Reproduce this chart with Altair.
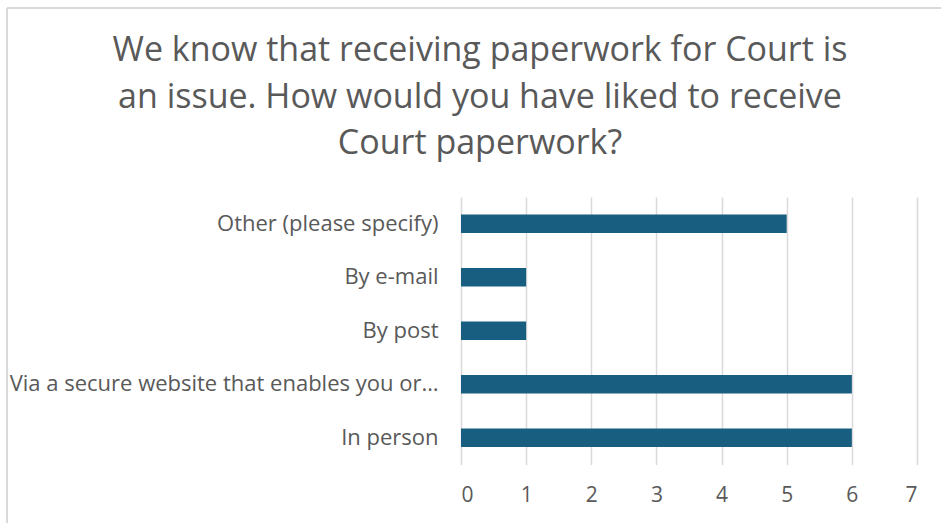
import altair as alt
import pandas as pd

categories = [
    "Other (please specify)",
    "By e-mail",
    "By post",
    "Via a secure website that enables you or…",
    "In person",
]
counts = [5, 1, 1, 6, 6]
x_ticks = [0, 1, 2, 3, 4, 5, 6, 7]
title_lines = [
    "We know that receiving paperwork for Court is",
    "an issue. How would you have liked to receive",
    "Court paperwork?",
]

df = pd.DataFrame({"category": categories, "count": counts})

FONT = "Open Sans"
GREY = "#595959"

bars = alt.Chart(df).mark_bar(size=18.5, color="#185E80").encode(
    x=alt.X(
        "count:Q",
        scale=alt.Scale(domain=[0, 7], nice=False),
        axis=alt.Axis(
            values=x_ticks,
            title=None,
            grid=True,
            gridColor="#D9D9D9",
            gridWidth=1.5,
            domain=False,
            ticks=False,
            labelPadding=20,
            labelFontSize=21,
            labelColor=GREY,
            labelFont=FONT,
        ),
    ),
    y=alt.Y(
        "category:N",
        sort=categories,
        axis=alt.Axis(
            title=None,
            domain=False,
            ticks=False,
            labelPadding=23,
            labelFontSize=22,
            labelColor=GREY,
            labelFont=FONT,
            labelLimit=0,
        ),
    ),
)

one = alt.Data(values=[{"a": 1}])

border = alt.Chart(one).mark_rule(color="#D9D9D9", strokeWidth=2).encode(
    x=alt.value(-454), y=alt.value(-189), y2=alt.value(326)
)
border_top = alt.Chart(one).mark_rule(color="#D9D9D9", strokeWidth=2).encode(
    x=alt.value(-454), x2=alt.value(480), y=alt.value(-189)
)
title = alt.Chart(one).mark_text(
    text=title_lines,
    font=FONT,
    fontSize=34,
    color=GREY,
    align="center",
    baseline="top",
    lineHeight=46.5,
).encode(x=alt.value(19), y=alt.value(-163))

chart = alt.layer(bars, border, border_top, title).properties(
    width=456,
    height=267.5,
    autosize=alt.AutoSizeParams(type="none"),
    padding={"left": 461, "top": 197, "right": 24, "bottom": 58},
).configure(background="white").configure_view(stroke=None)

chart.save("out.html", embed_options={"renderer": "svg", "actions": False})
